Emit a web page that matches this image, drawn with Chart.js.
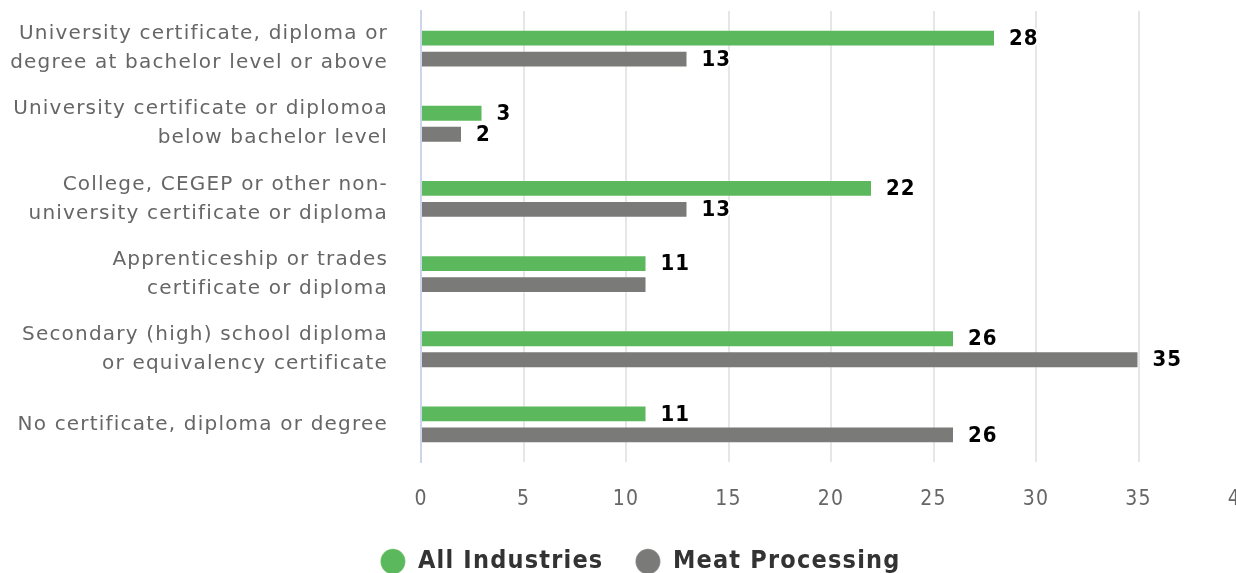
<!DOCTYPE html>
<html>
<head>
<meta charset="utf-8">
<script src="https://cdn.jsdelivr.net/npm/chart.js@4.4.1/dist/chart.umd.min.js"></script>
<style>
  html, body { margin: 0; padding: 0; background: #ffffff; overflow: hidden; }
  #wrap { width: 1280px; height: 573px; }
</style>
</head>
<body>
<div id="wrap"><canvas id="chart" width="1280" height="573"></canvas></div>
<script>
// Highest level of education: share of workers (%)
const categories = [
  ['University certificate, diploma or', 'degree at bachelor level or above'],
  ['University certificate or diplomoa', 'below bachelor level'],
  ['College, CEGEP or other non-', 'university certificate or diploma'],
  ['Apprenticeship or trades', 'certificate or diploma'],
  ['Secondary (high) school diploma', 'or equivalency certificate'],
  'No certificate, diploma or degree'
];
const allIndustries = [28, 3, 22, 11, 26, 11];
const meatProcessing = [13, 2, 13, 11, 35, 26];
const xTicks = [0, 5, 10, 15, 20, 25, 30, 35, 40];

// value labels that are left off (series index, category index)
const unlabelled = [[1, 3]];

// spaced-out lettering for every text drawn on the canvas
const letterSpacing = {
  id: 'letterSpacing',
  beforeUpdate(chart) { chart.ctx.letterSpacing = '1.2px'; },
  beforeDraw(chart) { chart.ctx.letterSpacing = '1.2px'; },
  afterLayout(chart) {
    // nudge the legend row to the right of the plot's centre
    if (chart.legend) { chart.legend.left += 20; chart.legend.right += 20; }
  }
};

const valueLabels = {
  id: 'valueLabels',
  afterDatasetsDraw(chart) {
    const ctx = chart.ctx;
    ctx.save();
    ctx.font = 'bold 22px "DejaVu Sans Condensed", "DejaVu Sans"';
    ctx.letterSpacing = '1px';
    ctx.textAlign = 'left';
    ctx.textBaseline = 'middle';
    ctx.lineJoin = 'round';
    chart.data.datasets.forEach((ds, di) => {
      const meta = chart.getDatasetMeta(di);
      meta.data.forEach((bar, i) => {
        if (unlabelled.some(([a, b]) => a === di && b === i)) return;
        const text = String(ds.data[i]);
        const x = bar.x + 14;
        const y = bar.y + 1;
        ctx.strokeStyle = '#ffffff';
        ctx.lineWidth = 4;
        ctx.strokeText(text, x, y);
        ctx.fillStyle = '#000000';
        ctx.fillText(text, x, y);
      });
    });
    ctx.restore();
  }
};

new Chart(document.getElementById('chart'), {
  type: 'bar',
  data: {
    labels: categories,
    datasets: [
      {
        label: 'All Industries',
        data: allIndustries,
        backgroundColor: '#5cb85c',
        borderColor: 'rgba(255,255,255,0.25)',
        borderWidth: 1,
        categoryPercentage: 0.56,
        barPercentage: 0.8
      },
      {
        label: 'Meat Processing',
        data: meatProcessing,
        backgroundColor: '#7a7a78',
        borderColor: 'rgba(255,255,255,0.25)',
        borderWidth: 1,
        categoryPercentage: 0.56,
        barPercentage: 0.8
      }
    ]
  },
  options: {
    indexAxis: 'y',
    responsive: false,
    animation: false,
    devicePixelRatio: 1,
    layout: { padding: { top: 11, right: 39, bottom: -11, left: 0 } },
    scales: {
      x: {
        type: 'linear',
        position: 'bottom',
        min: 0,
        max: 40,
        afterBuildTicks(scale) { scale.ticks = xTicks.map(v => ({ value: v })); },
        afterFit(scale) { scale.height = 55; },
        grid: { color: '#e6e6e6', lineWidth: 2, drawTicks: false },
        border: { display: false },
        ticks: {
          padding: 25,
          color: '#666666',
          font: { family: '"Liberation Sans Narrow", "DejaVu Sans Condensed"', size: 21 }
        }
      },
      y: {
        type: 'category',
        offset: true,
        afterFit(scale) {
          scale.width = 421;
          scale.paddingTop = 0;
          scale.paddingBottom = 0;
        },
        grid: { display: false, drawTicks: false },
        border: { display: true, color: '#ccd6eb', width: 2 },
        ticks: {
          padding: 33,
          color: '#666666',
          font: { family: '"DejaVu Sans"', size: 20, lineHeight: 1.45 }
        }
      }
    },
    plugins: {
      tooltip: { enabled: false },
      legend: {
        position: 'bottom',
        labels: {
          usePointStyle: true,
          pointStyle: 'circle',
          boxHeight: 18,
          pointStyleWidth: 25,
          padding: 32,
          color: '#333333',
          font: { family: '"DejaVu Sans Condensed", "DejaVu Sans"', size: 25, weight: 'bold' }
        }
      }
    }
  },
  plugins: [letterSpacing, valueLabels]
});
</script>
</body>
</html>
